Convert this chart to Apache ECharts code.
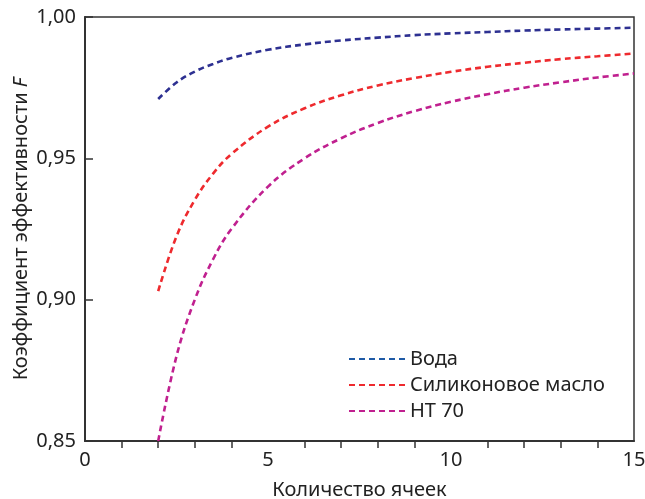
<!DOCTYPE html>
<html><head><meta charset="utf-8">
<script src="https://cdn.jsdelivr.net/npm/echarts@6/dist/echarts.min.js"></script>
<style>html,body{margin:0;padding:0;background:#fff}#c{width:645px;height:499px}</style>
</head><body><div id="c"></div>
<script>
const cells = [2, 2.5, 3, 3.5, 4, 5, 6, 7, 8, 9, 10, 11, 12, 13, 14, 15];
const water = [0.971, 0.9768, 0.9807, 0.9834, 0.9855, 0.9884, 0.9903, 0.9917, 0.9927, 0.9936, 0.9942, 0.9947, 0.9952, 0.9956, 0.9959, 0.9962];
const siliconeOil = [0.903, 0.9224, 0.9353, 0.9446, 0.9515, 0.9612, 0.9677, 0.9723, 0.9758, 0.9784, 0.9806, 0.9824, 0.9838, 0.9851, 0.9861, 0.9871];
const ht70 = [0.850, 0.880, 0.900, 0.9143, 0.925, 0.940, 0.950, 0.9571, 0.9625, 0.9667, 0.970, 0.9727, 0.975, 0.9769, 0.9786, 0.980];
const seriesNames = ['Вода', 'Силиконовое масло', 'НТ 70'];
const xTicks = [0, 5, 10, 15];
const yTicks = [0.85, 0.90, 0.95, 1.00];

const colors = ['#2d3091', '#ee2a2e', '#c0208f'];
const legendColors = ['#1f5aa6', '#ee2a2e', '#c0208f'];
const pair = ys => cells.map((x, i) => [x, ys[i]]);
const font = '"Noto Sans", "Liberation Sans", Arial, sans-serif';
const fs = 20;
const chart = echarts.init(document.getElementById('c'));
chart.setOption({
  animation: false,
  textStyle: {fontFamily: font},
  grid: {left: 85, right: 11, top: 17, bottom: 58, outerBoundsMode: 'none', containLabel: false,
         show: true, borderColor: '#333', borderWidth: 1.5, backgroundColor: 'transparent'},
  legend: {
    orient: 'vertical', left: 343, top: 344, itemWidth: 56, itemHeight: 12, itemGap: 6,
    itemStyle: {opacity: 0},
    textStyle: {fontSize: fs, color: '#222', fontFamily: font},
    data: seriesNames.map((n, i) => ({name: n, lineStyle: {color: legendColors[i]}}))
  },
  xAxis: {
    type: 'value', min: 0, max: 15, interval: 5,
    name: 'Количество ячеек', nameLocation: 'middle', nameGap: 39,
    nameTextStyle: {fontSize: fs, color: '#222'},
    axisLine: {lineStyle: {color: '#333', width: 2}},
    axisTick: {show: false},
    minorTick: {show: true, splitNumber: 5, inside: true, length: 7, lineStyle: {color: '#333', width: 1.5}},
    splitLine: {show: false},
    axisLabel: {fontSize: fs, color: '#222', margin: 9, formatter: v => xTicks.includes(v) ? String(v) : ''}
  },
  yAxis: {
    type: 'value', min: 0.85, max: 1.0, interval: 0.05,
    name: '{a|Коэффициент эффективности }{b|F}', nameLocation: 'middle', nameGap: 54, nameMoveOverlap: false,
    nameTextStyle: {fontSize: fs, rich: {a: {fontSize: fs, color: '#222', fontFamily: font}, b: {fontSize: fs, color: '#222', fontStyle: 'italic', fontFamily: font}}},
    axisLine: {lineStyle: {color: '#333', width: 2}},
    axisTick: {show: true, inside: true, length: 8, lineStyle: {color: '#333', width: 1.5}},
    splitLine: {show: false},
    axisLabel: {fontSize: fs, color: '#222', margin: 9, formatter: v => yTicks.some(t => Math.abs(t - v) < 1e-6) ? v.toFixed(2).replace('.', ',') : ''}
  },
  series: [water, siliconeOil, ht70].map((d, i) => ({
    name: seriesNames[i], type: 'line', data: pair(d), smooth: 0.4, symbol: 'none',
    lineStyle: {color: colors[i], width: 2.6, type: [6, 4]}, itemStyle: {color: colors[i]}
  }))
});
</script></body></html>
